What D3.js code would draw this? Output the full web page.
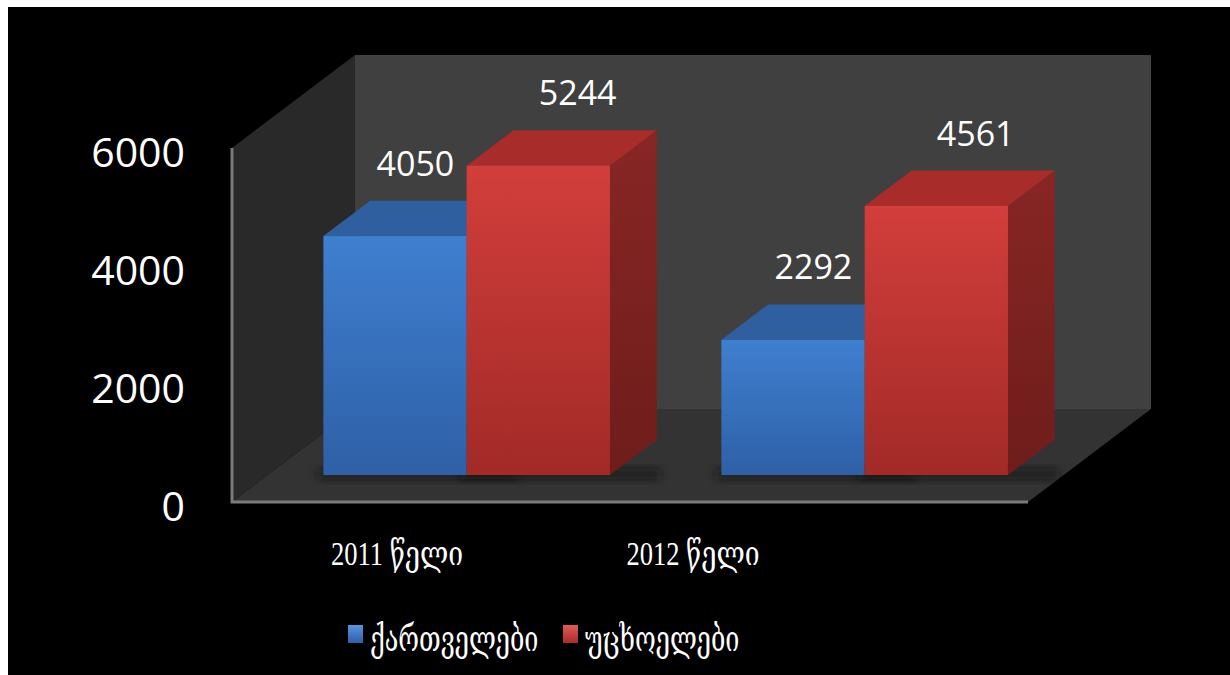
<!DOCTYPE html>
<html>
<head>
<meta charset="utf-8">
<script src="https://cdn.jsdelivr.net/npm/d3@7"></script>
<style>
  html, body { margin: 0; padding: 0; background: #fff; }
  svg { display: block; }
</style>
</head>
<body>
<svg id="chart" width="1230" height="675"></svg>
<script>
// Chart data
const categories = ["2011 წელი", "2012 წელი"];
const seriesNames = ["ქართველები", "უცხოელები"];
const georgians = [4050, 2292];
const foreigners = [5244, 4561];
const yTicks = [0, 2000, 4000, 6000];

const seriesValues = [georgians, foreigners];

// Layout of the 3D box (front plane + depth offset)
const W = 1230, H = 675;
const front = { left: 232, right: 1028, bottom: 502, top: 148 };
const depth = { dx: 123, dy: 93 };         // shift from front plane to back wall
const barDepth = { start: 0.29, size: 0.38 }; // fraction of depth used by bars
const catLabelShift = [-34, -136];
const valueLabelShift = [-3, 16];

const svg = d3.select("#chart");

// Frame: thin white margin on top/left, black canvas
svg.append("rect").attr("width", W).attr("height", H).attr("fill", "#fff");
svg.append("rect").attr("x", 8).attr("y", 7).attr("width", W - 8).attr("height", H - 7).attr("fill", "#000");

const defs = svg.append("defs");
function vGrad(id, c0, c1) {
  const g = defs.append("linearGradient").attr("id", id)
    .attr("x1", 0).attr("y1", 0).attr("x2", 0).attr("y2", 1);
  g.append("stop").attr("offset", "0%").attr("stop-color", c0);
  g.append("stop").attr("offset", "100%").attr("stop-color", c1);
}
vGrad("blueFront", "#3f7fd0", "#2e60a6");
vGrad("redFront", "#d23e3b", "#a22a27");
vGrad("redSide", "#882624", "#6e1d1b");
vGrad("blueSide", "#2c5897", "#234a80");
vGrad("blueKey", "#5a95e0", "#2c5fa6");
vGrad("redKey", "#e25a58", "#a82c29");
const palette = [
  { front: "url(#blueFront)", top: "#2f5f9f", side: "url(#blueSide)", key: "url(#blueKey)" },
  { front: "url(#redFront)", top: "#a82c29", side: "url(#redSide)", key: "url(#redKey)" }
];
const blur = defs.append("filter").attr("id", "soft").attr("x", "-20%").attr("y", "-50%").attr("width", "140%").attr("height", "200%");
blur.append("feGaussianBlur").attr("stdDeviation", 4);

// Scales on the front plane
const y = d3.scaleLinear().domain([0, 6000]).range([front.bottom, front.top]);
const x = d3.scaleBand().domain(categories).range([front.left, front.right])
  .paddingInner(0.28).paddingOuter(0.14);
const xs = d3.scaleBand().domain(seriesNames).range([0, x.bandwidth()]);

const pts = a => a.map(p => p.join(",")).join(" ");

// Walls and floor
const bx = front.left + depth.dx, by = front.bottom - depth.dy, bt = front.top - depth.dy;
svg.append("polygon").attr("fill", "#404040")
  .attr("points", pts([[bx, bt], [front.right + depth.dx, bt], [front.right + depth.dx, by], [bx, by]]));
svg.append("polygon").attr("fill", "#292929")
  .attr("points", pts([[front.left, front.bottom], [front.left, front.top], [bx, bt], [bx, by]]));
svg.append("polygon").attr("fill", "#333333")
  .attr("points", pts([[front.left, front.bottom], [front.right, front.bottom], [front.right + depth.dx, by], [bx, by]]));

// Front edges of the box
svg.append("path").attr("fill", "none").attr("stroke", "#7a7a7a").attr("stroke-width", 3)
  .attr("d", `M${front.left},${front.top}V${front.bottom}H${front.right}`);

// Bars
const d0 = barDepth.start, d1 = barDepth.start + barDepth.size;
const ox0 = depth.dx * d0, oy0 = depth.dy * d0;
const ox1 = depth.dx * d1, oy1 = depth.dy * d1;

const bars = [];
categories.forEach((c, ci) => {
  seriesNames.forEach((s, si) => {
    bars.push({ c, ci, s, si, v: seriesValues[si][ci] });
  });
});

// Soft floor shadows
svg.append("g").selectAll("rect").data(bars).join("rect")
  .attr("x", d => x(d.c) + xs(d.s) + ox0 - 6)
  .attr("y", d => y(0) - oy0 - 6)
  .attr("width", xs.bandwidth() + (ox1 - ox0) + 10)
  .attr("height", 10)
  .attr("fill", "#111").attr("opacity", 0.6).attr("filter", "url(#soft)");

const gBars = svg.append("g");
bars.forEach(d => {
  const x0 = x(d.c) + xs(d.s) + ox0;
  const x1 = x0 + xs.bandwidth();
  const yb = y(0) - oy0;
  const yt = y(d.v) - oy0;
  const ddx = ox1 - ox0, ddy = oy1 - oy0;
  const col = palette[d.si];
  const g = gBars.append("g");
  g.append("polygon").attr("fill", col.side)
    .attr("points", pts([[x1, yt], [x1 + ddx, yt - ddy], [x1 + ddx, yb - ddy], [x1, yb]]));
  g.append("polygon").attr("fill", col.top)
    .attr("points", pts([[x0, yt], [x1, yt], [x1 + ddx, yt - ddy], [x0 + ddx, yt - ddy]]));
  g.append("rect").attr("x", x0).attr("y", yt).attr("width", x1 - x0).attr("height", yb - yt)
    .attr("fill", col.front);
  // value label above the top face
  svg.append("text")
    .attr("x", (x0 + x1) / 2 + ddx / 2 + valueLabelShift[d.si])
    .attr("y", yt - ddy - 25)
    .attr("text-anchor", "middle")
    .attr("fill", "#fff")
    .attr("font-family", "'Open Sans', sans-serif")
    .attr("font-size", 34)
    .text(d.v);
});

// Value axis
const axis = svg.append("g").attr("transform", `translate(${front.left},0)`)
  .call(d3.axisLeft(y).tickValues(yTicks).tickSize(0).tickPadding(47).tickFormat(d3.format("d")));
axis.select(".domain").remove();
axis.selectAll("text")
  .attr("fill", "#fff")
  .attr("font-family", "'Open Sans', sans-serif")
  .attr("font-size", 41)
  .attr("dy", "0.45em");

// Category labels
svg.append("g").selectAll("text").data(categories).join("text")
  .attr("transform", (d, i) => `translate(${x(d) + x.bandwidth() / 2 + catLabelShift[i]},565) scale(0.78,1)`)
  .attr("text-anchor", "middle")
  .attr("fill", "#fff")
  .attr("font-family", "'Liberation Serif', 'DejaVu Serif', serif")
  .attr("font-size", 34)
  .text(d => d);

// Legend
const legendX = [348, 563];
const lg = svg.append("g").selectAll("g").data(seriesNames).join("g")
  .attr("transform", (d, i) => `translate(${legendX[i]},625)`);
lg.append("rect").attr("width", 15).attr("height", 18)
  .attr("fill", (d, i) => palette[i].key);
lg.append("text")
  .attr("transform", "translate(22,26) scale(0.72,1)")
  .attr("fill", "#fff")
  .attr("font-family", "'Liberation Serif', 'DejaVu Serif', serif")
  .attr("font-size", 35)
  .text(d => d);
</script>
</body>
</html>
